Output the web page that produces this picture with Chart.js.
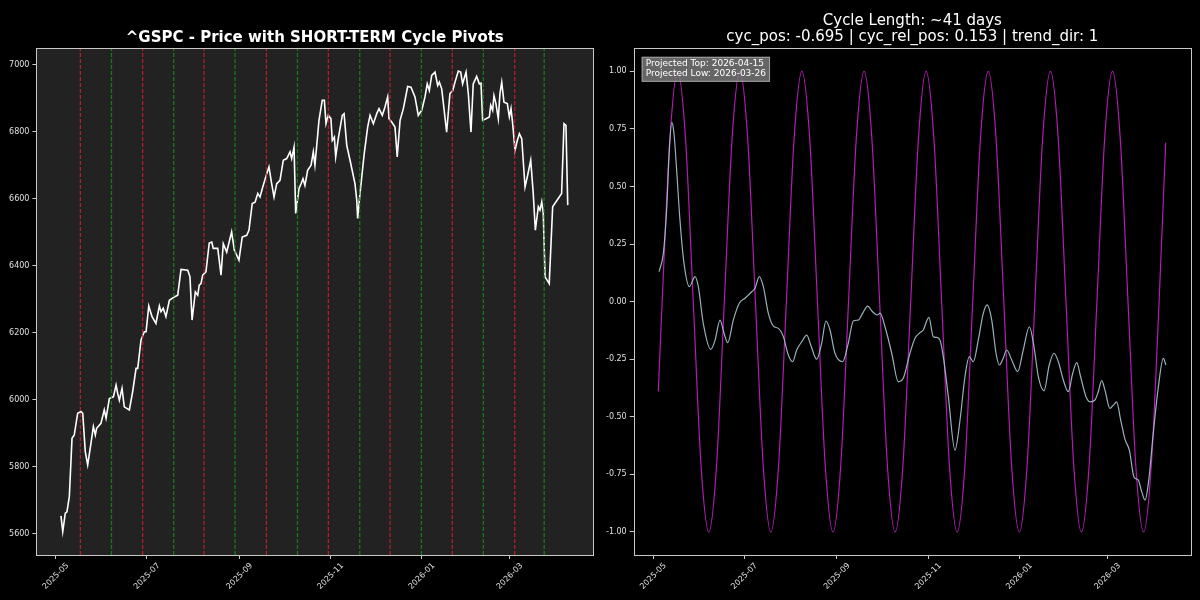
<!DOCTYPE html>
<html>
<head>
<meta charset="utf-8">
<script src="https://cdn.jsdelivr.net/npm/chart.js@4.4.1/dist/chart.umd.min.js"></script>
<style>
  html, body { margin: 0; padding: 0; background: #000; }
  .panel { position: absolute; top: 0; width: 600px; height: 600px; }
  #leftPanel { left: 0; }
  #rightPanel { left: 600px; }
</style>
</head>
<body>
<div class="panel" id="leftPanel"><canvas id="priceChart" width="600" height="600"></canvas></div>
<div class="panel" id="rightPanel"><canvas id="cycleChart" width="600" height="600"></canvas></div>
<script>
// x values are days counted from 2025-05-01
const monthTickDays = [0, 61, 123, 184, 245, 304];
const monthTickLabels = ["2025-05", "2025-07", "2025-09", "2025-11", "2026-01", "2026-03"];

const priceTicks = [5600, 5800, 6000, 6200, 6400, 6600, 6800, 7000];
const cycleTicks = [-1, -0.75, -0.5, -0.25, 0, 0.25, 0.5, 0.75, 1];

// ^GSPC close
const priceDays = [3.5, 4.7, 6.4, 7.5, 9.1, 10.9, 12.4, 14.7, 16.9, 18.1, 19.8, 21.4, 23.6, 25.2, 26.5, 27.4,
  30.3, 32.5, 33.7, 35.9, 38.6, 40.4, 41.5, 42.6, 44.4, 45.9, 49.3, 51.5, 53.8, 54.9, 57.1, 59.3, 60.5,
  62.3, 64.5, 67.1, 69.4, 70.5, 72.0, 73.8, 76.1, 79.4, 81.7, 83.9, 88.4, 89.9, 91.3, 93.5, 95.1, 96.1,
  97.3, 98.4, 100.6, 102.8, 104.5, 105.5, 108.5, 110.7, 112.2, 114.5, 117.8, 119.6, 122.7, 124.9, 127.9,
  129.4, 131.6, 133.5, 135.3, 136.8, 138.3, 141.3, 142.8, 144.6, 146.2, 148.0, 150.2, 152.4, 154.7, 156.9,
  158.0, 159.6, 160.7, 162.9, 164.3, 165.6, 166.9, 168.7, 171.0, 172.5, 173.6, 176.3, 178.5, 179.9, 181.0,
  182.5, 184.3, 185.2, 186.6, 187.5, 189.2, 191.9, 193.1, 194.9, 197.1, 200.4, 201.6, 202.2, 203.8, 206.6,
  208.9, 210.5, 212.7, 215.0, 216.5, 218.7, 220.5, 222.3, 223.2, 225.0, 227.2, 228.7, 230.6, 232.8, 235.7,
  237.9, 240.6, 242.8, 245.1, 247.3, 248.8, 250.2, 251.8, 254.0, 255.8, 256.9, 258.5, 261.8, 264.0, 265.9,
  267.4, 269.6, 271.2, 272.5, 274.8, 276.3, 278.1, 279.6, 281.9, 283.7, 284.8, 285.9, 288.2, 290.4, 291.3,
  292.6, 293.5, 294.8, 296.4, 297.5, 298.7, 300.2, 302.4, 303.8, 304.9, 306.0, 307.6, 309.1, 310.5, 312.1,
  314.3, 315.8, 318.1, 319.8, 321.2, 323.2, 324.3, 325.5, 326.5, 327.7, 330.5, 332.8, 338.8, 340.4, 341.7, 342.9];
const prices = [5654, 5607, 5662, 5666, 5711, 5885, 5895, 5960, 5965, 5960, 5845, 5806, 5870, 5920, 5895, 5915,
  5930, 5970, 5945, 6004, 6009, 6044, 6019, 5999, 6034, 5979, 5970, 6024, 6094, 6094, 6178, 6203, 6203,
  6280, 6248, 6228, 6280, 6263, 6273, 6248, 6297, 6307, 6312, 6389, 6387, 6367, 6238, 6322, 6312, 6342,
  6347, 6372, 6382, 6468, 6471, 6452, 6452, 6372, 6466, 6441, 6501, 6447, 6417, 6486, 6491,
  6506, 6586, 6590, 6616, 6605, 6630, 6675, 6695, 6645, 6605, 6645, 6655, 6715, 6720, 6740,
  6720, 6754, 6556, 6630, 6645, 6660, 6640, 6685, 6700, 6740, 6700, 6834, 6894, 6894, 6824,
  6849, 6839, 6774, 6784, 6725, 6779, 6849, 6854, 6759, 6715, 6645, 6596, 6541, 6616, 6735,
  6814, 6849, 6824, 6854, 6869, 6849, 6874, 6904, 6839, 6829, 6814, 6725, 6834, 6869, 6935,
  6933, 6904, 6849, 6864, 6904, 6943, 6923, 6968, 6978, 6938, 6948, 6928, 6799, 6914, 6923,
  6948, 6981, 6978, 6943, 6978, 6914, 6799, 6943, 6965, 6943, 6945, 6834, 6839, 6844, 6879,
  6864, 6908, 6884, 6839, 6914, 6948, 6888, 6884, 6844, 6869, 6824, 6745, 6774, 6794, 6779,
  6635, 6665, 6715, 6616, 6506, 6576, 6566, 6591, 6556, 6367, 6347, 6576, 6616, 6824, 6819, 6581];

// short-term cycle pivots
const topPivotDays = [16.5, 58.2, 99.3, 141.1, 182.6, 223.9, 265.6, 307.4];
const lowPivotDays = [37.3, 79.0, 120.1, 161.9, 203.6, 244.9, 286.4, 327.1];

// dominant cycle wave
const waveDays = [3.5, 6.1, 11.3, 16.5, 21.7, 26.9, 32.1, 37.3, 42.5, 47.7, 52.9, 58.1, 63.3, 68.5, 73.7,
  78.8, 84.0, 89.2, 94.4, 99.6, 104.8, 110.0, 115.2, 120.4, 125.6, 130.8, 136.0, 141.2, 146.4, 151.6,
  156.8, 162.0, 167.2, 172.4, 177.6, 182.7, 187.9, 193.1, 198.3, 203.5, 208.7, 213.9, 219.1, 224.3,
  229.5, 234.7, 239.9, 245.1, 250.3, 255.5, 260.7, 265.9, 271.1, 276.3, 281.5, 286.6, 291.8, 297.0,
  302.2, 307.4, 312.6, 317.8, 323.0, 328.2, 333.4, 338.6, 343.0];
const waveValues = [-0.39, 0, 0.71, 1, 0.71, 0, -0.71, -1, -0.71, 0, 0.71, 1, 0.71, 0, -0.71,
  -1, -0.71, 0, 0.71, 1, 0.71, 0, -0.71, -1, -0.71, 0, 0.71, 1, 0.71, 0,
  -0.71, -1, -0.71, 0, 0.71, 1, 0.71, 0, -0.71, -1, -0.71, 0, 0.71, 1,
  0.71, 0, -0.71, -1, -0.71, 0, 0.71, 1, 0.71, 0, -0.71, -1, -0.71, 0,
  0.71, 1, 0.71, 0, -0.71, -1, -0.71, 0, 0.69];

// normalized price oscillation
const cycleDays = [4.0, 6.9, 9.1, 10.9, 12.5, 14.0, 15.8, 18.0, 20.7, 24.3, 28.1, 30.3, 33.6, 38.6, 41.5,
  44.8, 47.5, 50.0, 53.7, 57.7, 61.5, 66.0, 68.2, 71.1, 73.8, 77.1, 80.5, 83.8, 87.2, 90.5, 93.4, 96.1,
  99.5, 102.8, 105.5, 109.5, 112.8, 115.7, 118.4, 121.7, 126.9, 130.6, 134.0, 137.3, 140.3, 143.6, 146.7,
  150.0, 151.9, 155.2, 159.7, 164.1, 167.4, 171.9, 175.3, 178.6, 180.8, 184.6, 187.5, 189.8, 192.0, 194.2,
  197.6, 202.0, 205.4, 208.7, 211.6, 214.3, 217.6, 221.0, 223.6, 226.6, 229.5, 231.7, 234.3, 236.6, 240.0,
  244.0, 247.7, 251.8, 254.9, 257.8, 261.6, 265.1, 268.3, 271.2, 274.5, 277.8, 280.8, 283.5, 286.1, 289.7,
  292.4, 295.7, 297.9, 300.2, 302.4, 305.7, 308.0, 310.2, 312.9, 315.8, 318.7, 321.8, 324.7, 327.0, 329.2,
  331.4, 334.7, 338.1, 341.4, 343.2];
const cycleValues = [0.13, 0.21, 0.40, 0.66, 0.778, 0.73, 0.57, 0.355, 0.167, 0.065, 0.109, 0.065, -0.094, -0.207, -0.167,
  -0.08, -0.137, -0.178, -0.08, -0.007, 0.015, 0.043, 0.058, 0.109, 0.065, -0.05, -0.106, -0.116, -0.152, -0.232, -0.261, -0.21,
  -0.174, -0.145, -0.188, -0.25, -0.181, -0.084, -0.123, -0.224, -0.261, -0.181, -0.084, -0.08, -0.05, -0.019, -0.043,
  -0.058, -0.05, -0.109, -0.224, -0.348, -0.333, -0.224, -0.159, -0.135, -0.123, -0.068, -0.152, -0.155, -0.167, -0.239,
  -0.413, -0.645, -0.514, -0.326, -0.239, -0.261, -0.167, -0.05, -0.014, -0.08, -0.224, -0.275, -0.246, -0.21, -0.253,
  -0.304, -0.21, -0.109, -0.196, -0.326, -0.387, -0.275, -0.224, -0.261, -0.34, -0.391, -0.311, -0.265, -0.326, -0.413,
  -0.435, -0.427, -0.391, -0.343, -0.384, -0.464, -0.449, -0.435, -0.514, -0.598, -0.645, -0.761, -0.775, -0.826, -0.862,
  -0.79, -0.572, -0.37, -0.246, -0.275];

const projectionLines = ["Projected Top: 2026-04-15", "Projected Low: 2026-03-26"];

// axis limits (matplotlib style 5% margins)
const X_MIN = -12.95, X_MAX = 359.95;
const PRICE_MIN = 5537, PRICE_MAX = 7049;
const CYCLE_MIN = -1.1, CYCLE_MAX = 1.1;

Chart.defaults.font.family = "'DejaVu Sans', sans-serif";
Chart.defaults.animation = false;

const SPINE = "#c8c8c8";
const TICK_TEXT = "#e0e0e0";

const framePlugin = {
    id: "frame",
    beforeDraw(chart, args, opts) {
        const a = chart.chartArea;
        if (opts.bg) {
            chart.ctx.save();
            chart.ctx.fillStyle = opts.bg;
            chart.ctx.fillRect(a.left, a.top, a.right - a.left, a.bottom - a.top);
            chart.ctx.restore();
        }
    },
    afterDraw(chart) {
        const a = chart.chartArea;
        const ctx = chart.ctx;
        ctx.save();
        ctx.strokeStyle = SPINE;
        ctx.lineWidth = 1;
        ctx.strokeRect(Math.round(a.left) + 0.5, Math.round(a.top) + 0.5,
            Math.round(a.right - a.left), Math.round(a.bottom - a.top));
        ctx.restore();
    }
};

const textBoxPlugin = {
    id: "textBox",
    afterDatasetsDraw(chart, args, opts) {
        if (!opts.lines) return;
        const a = chart.chartArea;
        const ctx = chart.ctx;
        const x = a.left + 8, y = a.top + 8.5;
        ctx.save();
        ctx.font = "9px 'DejaVu Sans'";
        const w = Math.max(...opts.lines.map(l => ctx.measureText(l).width)) + 8;
        const h = opts.lines.length * 10 + 5;
        ctx.fillStyle = "rgba(128, 128, 128, 0.8)";
        ctx.fillRect(x, y, w, h);
        ctx.strokeStyle = "rgba(170, 170, 170, 0.9)";
        ctx.lineWidth = 1;
        ctx.strokeRect(x + 0.5, y + 0.5, w - 1, h - 1);
        ctx.fillStyle = "#ffffff";
        ctx.textBaseline = "middle";
        opts.lines.forEach((line, i) => ctx.fillText(line, x + 4, y + 6.5 + i * 10));
        ctx.restore();
    }
};

function dateAxis(height) {
    return {
        type: "linear",
        min: X_MIN,
        max: X_MAX,
        afterBuildTicks: scale => { scale.ticks = monthTickDays.map(v => ({ value: v })); },
        afterFit: scale => { scale.height = height; },
        grid: { display: true, drawOnChartArea: false, drawTicks: true, tickLength: 4, color: SPINE },
        border: { display: false },
        ticks: {
            color: TICK_TEXT,
            font: { size: 8 },
            autoSkip: false,
            minRotation: 45,
            maxRotation: 45,
            labelOffset: 12,
            padding: 2,
            callback: value => {
                const i = monthTickDays.indexOf(value);
                return i >= 0 ? monthTickLabels[i] : "";
            }
        }
    };
}

function valueAxis(width, min, max, tickValues, fmt) {
    return {
        type: "linear",
        min,
        max,
        afterBuildTicks: scale => { scale.ticks = tickValues.map(v => ({ value: v })); },
        afterFit: scale => { scale.width = width; },
        grid: { display: true, drawOnChartArea: false, drawTicks: true, tickLength: 4, color: SPINE },
        border: { display: false },
        ticks: { color: TICK_TEXT, font: { size: 8 }, autoSkip: false, padding: 3, callback: fmt }
    };
}

function pivotDataset(day, color) {
    return {
        data: [{ x: day, y: PRICE_MIN }, { x: day, y: PRICE_MAX }],
        borderColor: color,
        borderWidth: 1.3,
        borderDash: [4, 2],
        pointRadius: 0
    };
}

// Left: price with cycle pivots
const pivotSets = [
    ...topPivotDays.map(d => pivotDataset(d, "rgba(215, 30, 45, 0.8)")),
    ...lowPivotDays.map(d => pivotDataset(d, "rgba(20, 140, 20, 0.85)"))
];

new Chart(document.getElementById("priceChart"), {
    type: "line",
    data: {
        datasets: [
            ...pivotSets,
            {
                data: priceDays.map((d, i) => ({ x: d, y: prices[i] })),
                borderColor: "#ffffff",
                borderWidth: 1.6,
                pointRadius: 0,
                tension: 0
            }
        ]
    },
    options: {
        responsive: false,
        layout: { padding: { left: 0, right: 6.8, top: 0, bottom: 0 } },
        scales: {
            x: dateAxis(45),
            y: valueAxis(36.4, PRICE_MIN, PRICE_MAX, priceTicks, v => String(v))
        },
        plugins: {
            legend: { display: false },
            tooltip: { enabled: false },
            title: {
                display: true,
                fullSize: false,
                text: "^GSPC - Price with SHORT-TERM Cycle Pivots",
                color: "#ffffff",
                font: { size: 15, weight: "bold", lineHeight: 1.1 },
                padding: { top: 29.5, bottom: 2.3 }
            },
            frame: { bg: "#222222" }
        }
    },
    plugins: [framePlugin]
});

// Right: cycle wave vs normalized price
new Chart(document.getElementById("cycleChart"), {
    type: "line",
    data: {
        datasets: [
            {
                data: cycleDays.map((d, i) => ({ x: d, y: cycleValues[i] })),
                borderColor: "rgba(170, 196, 206, 0.9)",
                borderWidth: 1.2,
                pointRadius: 0,
                cubicInterpolationMode: "monotone"
            },
            {
                data: waveDays.map((d, i) => ({ x: d, y: waveValues[i] })),
                borderColor: "rgba(178, 28, 178, 1)",
                borderWidth: 1.2,
                pointRadius: 0,
                cubicInterpolationMode: "monotone"
            }
        ]
    },
    options: {
        responsive: false,
        layout: { padding: { left: 0, right: 9, top: 0, bottom: 0 } },
        scales: {
            x: dateAxis(45),
            y: valueAxis(33.7, CYCLE_MIN, CYCLE_MAX, cycleTicks, v => v.toFixed(2))
        },
        plugins: {
            legend: { display: false },
            tooltip: { enabled: false },
            title: {
                display: true,
                fullSize: false,
                text: ["Cycle Length: ~41 days", "cyc_pos: -0.695 | cyc_rel_pos: 0.153 | trend_dir: 1"],
                color: "#ffffff",
                font: { size: 15, weight: "normal", lineHeight: 1.1 },
                padding: { top: 12.8, bottom: 2.5 }
            },
            textBox: { lines: projectionLines }
        }
    },
    plugins: [framePlugin, textBoxPlugin]
});
</script>
</body>
</html>
